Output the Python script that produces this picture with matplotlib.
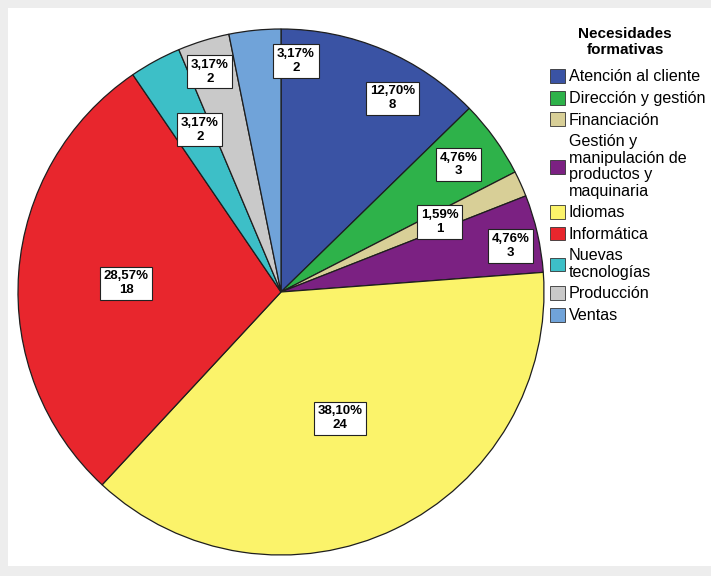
import matplotlib.pyplot as plt
from matplotlib.patches import Rectangle, Patch
import numpy as np

plt.rcParams['font.family'] = ['Liberation Sans', 'DejaVu Sans']

categorias = ["Atención al cliente", "Dirección y gestión", "Financiación",
              "Gestión y\nmanipulación de\nproductos y\nmaquinaria",
              "Idiomas", "Informática", "Nuevas\ntecnologías", "Producción", "Ventas"]
conteos = [8, 3, 1, 3, 24, 18, 2, 2, 2]
porcentajes = ["12,70%", "4,76%", "1,59%", "4,76%", "38,10%", "28,57%", "3,17%", "3,17%", "3,17%"]
colores = ["#3a53a4", "#2eb24a", "#d8cf97", "#7b2182", "#fbf36a",
           "#e8262d", "#3dbfc7", "#c9c9c9", "#70a3d9"]

# posicion de las etiquetas: desfase de angulo (grados) y radio relativo
desfase_ang = [-7, 0, -0.5, -1.5, -0.6, 1, -2, 0.8, -9.4]
radio_etq = [0.85, 0.83, 0.66, 0.89, 0.53, 0.59, 0.69, 0.88, 0.88]

fig = plt.figure(figsize=(7.11, 5.76), dpi=100, facecolor="#ededed")
fig.patches.append(Rectangle((8 / 711, 10 / 576), 1, 558 / 576, transform=fig.transFigure,
                             facecolor="white", edgecolor="none", zorder=-5))

ax = fig.add_axes([18 / 711, 21 / 576, 526 / 711, 526 / 576])
ax.set_facecolor("none")
wedges, _ = ax.pie(conteos, colors=colores, startangle=90, counterclock=False,
                   wedgeprops=dict(edgecolor="#1e1e1e", linewidth=0.9))
ax.set_xlim(-1, 1)
ax.set_ylim(-1, 1)

total = sum(conteos)
ang = 90.0
for i, n in enumerate(conteos):
    tam = n / total * 360
    medio = ang - tam / 2 + desfase_ang[i]
    ang -= tam
    r = radio_etq[i]
    x = r * np.cos(np.radians(medio))
    y = r * np.sin(np.radians(medio))
    ax.text(x, y, f"{porcentajes[i]}\n{n}", ha="center", va="center", fontsize=9.5,
            fontweight="bold", linespacing=1.2,
            bbox=dict(boxstyle="square,pad=0.28", facecolor="white", edgecolor="#222222",
                      linewidth=0.8))

# titulo de la leyenda
fig.text(625 / 711, 1 - 42 / 576, "Necesidades\nformativas", ha="center", va="center",
         multialignment="center", fontsize=11, fontweight="bold", linespacing=1.25)

handles = [Patch(facecolor=c, edgecolor="#333333", linewidth=0.6) for c in colores]
leg = fig.legend(handles, categorias, loc="upper left",
                 bbox_to_anchor=(550 / 711, 1 - 69 / 576), frameon=False,
                 fontsize=11.6,
                 handlelength=0.95, handleheight=0.95, handletextpad=0.2,
                 labelspacing=0.38, borderpad=0, borderaxespad=0)
for t in leg.get_texts():
    t.set_linespacing(1.14)

fig.savefig("out.png", dpi=100, facecolor=fig.get_facecolor())
